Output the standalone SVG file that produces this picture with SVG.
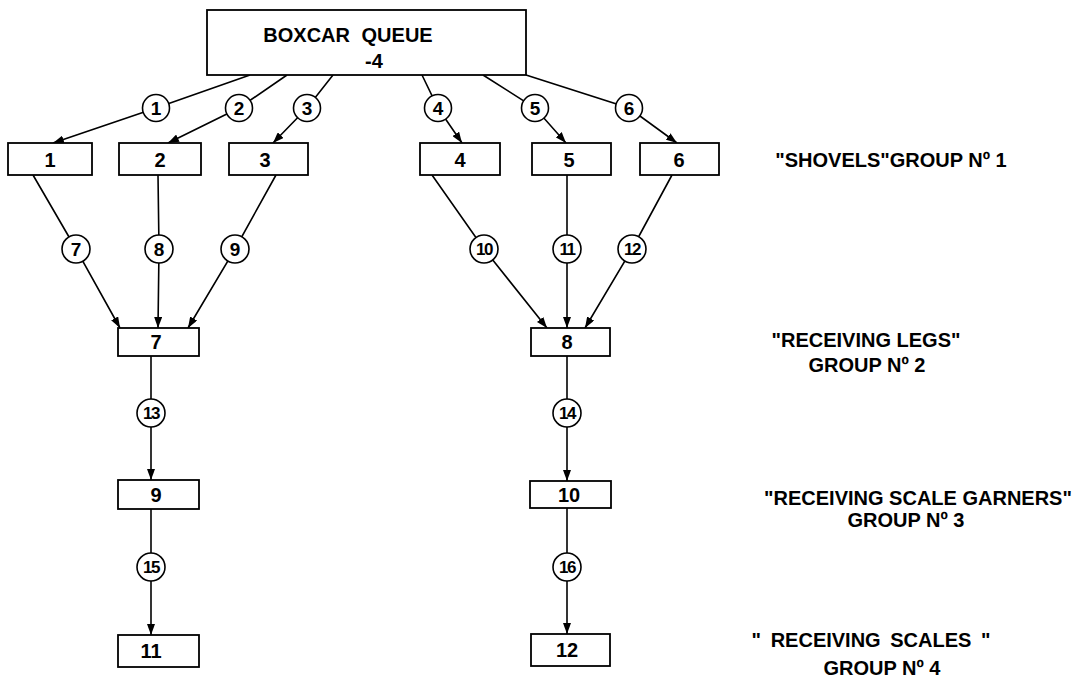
<svg xmlns="http://www.w3.org/2000/svg" width="1084" height="687" viewBox="0 0 1084 687">
<defs>
<marker id="ah" markerUnits="userSpaceOnUse" markerWidth="12" markerHeight="8" refX="11" refY="4" orient="auto">
<path d="M0,0 L11,4 L0,8 z" fill="#000"/>
</marker>
<style>
.box{fill:#fff;stroke:#000;stroke-width:1.8}
.lbl{font-family:"Liberation Sans",Arial,sans-serif;font-weight:bold;font-size:20px;text-anchor:middle;fill:#000}
.c{fill:#fff;stroke:#000;stroke-width:1.6}
.ct{font-family:"Liberation Sans",Arial,sans-serif;font-weight:bold;font-size:19px;text-anchor:middle;fill:#000}
.ct2{font-family:"Liberation Sans",Arial,sans-serif;font-weight:bold;font-size:17px;text-anchor:middle;fill:#000;letter-spacing:-1.5px}
.ln{fill:none;stroke:#000;stroke-width:1.6;marker-end:url(#ah)}
.side{font-family:"Liberation Sans",Arial,sans-serif;font-weight:bold;font-size:20px;text-anchor:middle;fill:#000}
</style>
</defs>
<rect width="1084" height="687" fill="#fff"/>
<g id="connectors">
<polyline class="ln" points="250,75 156,108 53,143"/>
<polyline class="ln" points="287,75 239,108 168,143"/>
<polyline class="ln" points="333,75 307,108 273,143"/>
<polyline class="ln" points="422,75 438,108 462,143"/>
<polyline class="ln" points="483,75 535,108 566,143"/>
<polyline class="ln" points="526,75 629,108 677,143"/>
<polyline class="ln" points="33,175 76,249 120,328"/>
<polyline class="ln" points="158,175 159,249 158,328"/>
<polyline class="ln" points="276,175 235,249 188,328"/>
<polyline class="ln" points="432,175 484,249 547,328"/>
<polyline class="ln" points="567,175 567,249 567,328"/>
<polyline class="ln" points="672,175 632,249 585,328"/>
<polyline class="ln" points="151,356 151,413 151,480"/>
<polyline class="ln" points="151,509 151,567 151,635"/>
<polyline class="ln" points="567,356 567,413 567,481"/>
<polyline class="ln" points="567,508 567,567 567,634"/>
<g id="c1"><circle class="c" cx="156" cy="108" r="13.5"/><text class="ct" x="156" y="115">1</text></g>
<g id="c2"><circle class="c" cx="239" cy="108" r="13.5"/><text class="ct" x="239" y="115">2</text></g>
<g id="c3"><circle class="c" cx="307" cy="108" r="13.5"/><text class="ct" x="307" y="115">3</text></g>
<g id="c4"><circle class="c" cx="438" cy="108" r="13.5"/><text class="ct" x="438" y="115">4</text></g>
<g id="c5"><circle class="c" cx="535" cy="108" r="13.5"/><text class="ct" x="535" y="115">5</text></g>
<g id="c6"><circle class="c" cx="629" cy="108" r="13.5"/><text class="ct" x="629" y="115">6</text></g>
<g id="c7"><circle class="c" cx="76" cy="249" r="14"/><text class="ct" x="76" y="256">7</text></g>
<g id="c8"><circle class="c" cx="159" cy="249" r="14"/><text class="ct" x="159" y="256">8</text></g>
<g id="c9"><circle class="c" cx="235" cy="249" r="14"/><text class="ct" x="235" y="256">9</text></g>
<g id="c10"><circle class="c" cx="484" cy="249" r="14"/><text class="ct2" x="484" y="255">10</text></g>
<g id="c11"><circle class="c" cx="567" cy="249" r="14"/><text class="ct2" x="567" y="255">11</text></g>
<g id="c12"><circle class="c" cx="632" cy="249" r="14"/><text class="ct2" x="632" y="255">12</text></g>
<g id="c13"><circle class="c" cx="151" cy="413" r="14"/><text class="ct2" x="151" y="419">13</text></g>
<g id="c14"><circle class="c" cx="567" cy="413" r="14"/><text class="ct2" x="567" y="419">14</text></g>
<g id="c15"><circle class="c" cx="151" cy="567" r="14"/><text class="ct2" x="151" y="573">15</text></g>
<g id="c16"><circle class="c" cx="567" cy="567" r="14"/><text class="ct2" x="567" y="573">16</text></g>
</g>
<g id="boxcar-queue"><rect class="box" x="207" y="10" width="319" height="65"/><text class="lbl" x="348" y="42" font-size="19" word-spacing="6">BOXCAR QUEUE</text><text class="lbl" x="374" y="68" font-size="19">-4</text></g>
<g id="n1"><rect class="box" x="8" y="143" width="84" height="32"/><text class="lbl" x="50" y="167">1</text></g>
<g id="n2"><rect class="box" x="119" y="143" width="82" height="32"/><text class="lbl" x="160" y="167">2</text></g>
<g id="n3"><rect class="box" x="229" y="143" width="79" height="32"/><text class="lbl" x="265" y="167">3</text></g>
<g id="n4"><rect class="box" x="420" y="143" width="80" height="32"/><text class="lbl" x="460" y="167">4</text></g>
<g id="n5"><rect class="box" x="532" y="143" width="79" height="32"/><text class="lbl" x="569" y="167">5</text></g>
<g id="n6"><rect class="box" x="640" y="143" width="79" height="32"/><text class="lbl" x="679" y="167">6</text></g>
<g id="n7"><rect class="box" x="118" y="328" width="81" height="28"/><text class="lbl" x="156" y="349">7</text></g>
<g id="n8"><rect class="box" x="531" y="328" width="79" height="28"/><text class="lbl" x="567" y="349">8</text></g>
<g id="n9"><rect class="box" x="118" y="480" width="81" height="29"/><text class="lbl" x="156" y="502">9</text></g>
<g id="n10"><rect class="box" x="530" y="481" width="81" height="27"/><text class="lbl" x="569" y="502">10</text></g>
<g id="n11"><rect class="box" x="118" y="635" width="81" height="32"/><text class="lbl" x="151" y="658">11</text></g>
<g id="n12"><rect class="box" x="531" y="634" width="79" height="32"/><text class="lbl" x="567" y="657">12</text></g>
<g id="labels">
<text class="side" x="891" y="167">"SHOVELS"GROUP Nº 1</text>
<text class="side" x="866" y="347">"RECEIVING LEGS"</text>
<text class="side" x="867" y="372">GROUP Nº 2</text>
<text class="side" x="918" y="505">"RECEIVING SCALE GARNERS"</text>
<text class="side" x="906" y="527">GROUP Nº 3</text>
<text class="side" x="871" y="647" word-spacing="4">" RECEIVING SCALES "</text>
<text class="side" x="882" y="675">GROUP Nº 4</text>
</g>
</svg>
